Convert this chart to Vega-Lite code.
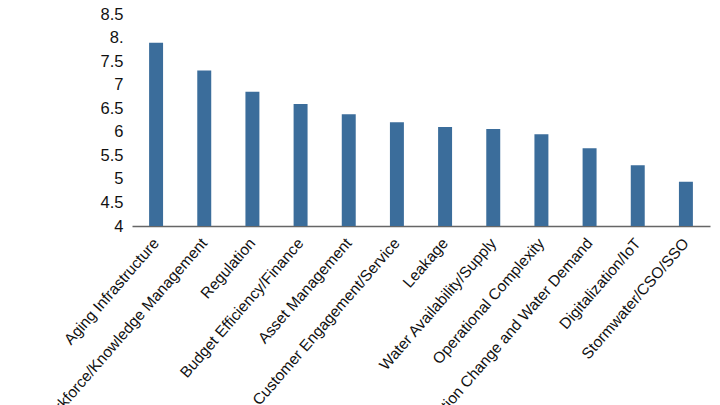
{
  "$schema": "https://vega.github.io/schema/vega-lite/v6.json",
  "width": 578,
  "height": 212,
  "autosize": "none",
  "padding": {"left": 132, "top": 14, "right": 10, "bottom": 179},
  "background": "white",
  "data": {"values": [
    {"issue": "Aging Infrastructure", "score": 7.89},
    {"issue": "Workforce/Knowledge Management", "score": 7.30},
    {"issue": "Regulation", "score": 6.85},
    {"issue": "Budget Efficiency/Finance", "score": 6.59},
    {"issue": "Asset Management", "score": 6.37},
    {"issue": "Customer Engagement/Service", "score": 6.20},
    {"issue": "Leakage", "score": 6.10},
    {"issue": "Water Availability/Supply", "score": 6.06},
    {"issue": "Operational Complexity", "score": 5.95},
    {"issue": "Population Change and Water Demand", "score": 5.65},
    {"issue": "Digitalization/IoT", "score": 5.29},
    {"issue": "Stormwater/CSO/SSO", "score": 4.94}
  ]},
  "mark": {"type": "bar", "color": "#3b6d9b", "clip": true},
  "encoding": {
    "x": {
      "field": "issue", "type": "nominal", "sort": null,
      "scale": {"paddingInner": 0.71, "paddingOuter": 0.355},
      "axis": {
        "title": null, "labelAngle": -49, "labelAlign": "right", "labelBaseline": "middle",
        "labelFont": "Liberation Sans", "labelFontSize": 15.5, "labelColor": "#111",
        "ticks": false, "labelPadding": 14, "domainColor": "#666", "domainWidth": 1.5,
        "labelOverlap": false, "labelLimit": 0
      }
    },
    "y": {
      "field": "score", "type": "quantitative",
      "scale": {"domain": [4, 8.5], "zero": false, "nice": false},
      "axis": {
        "title": null, "values": [4, 4.5, 5, 5.5, 6, 6.5, 7, 7.5, 8, 8.5],
        "labelExpr": "datum.value == 8 ? '8.' : format(datum.value, '~g')",
        "domain": false, "ticks": false, "grid": false,
        "labelFont": "Liberation Sans", "labelFontSize": 16.5, "labelColor": "#111",
        "labelPadding": 9
      }
    }
  },
  "config": {"view": {"stroke": null}}
}
